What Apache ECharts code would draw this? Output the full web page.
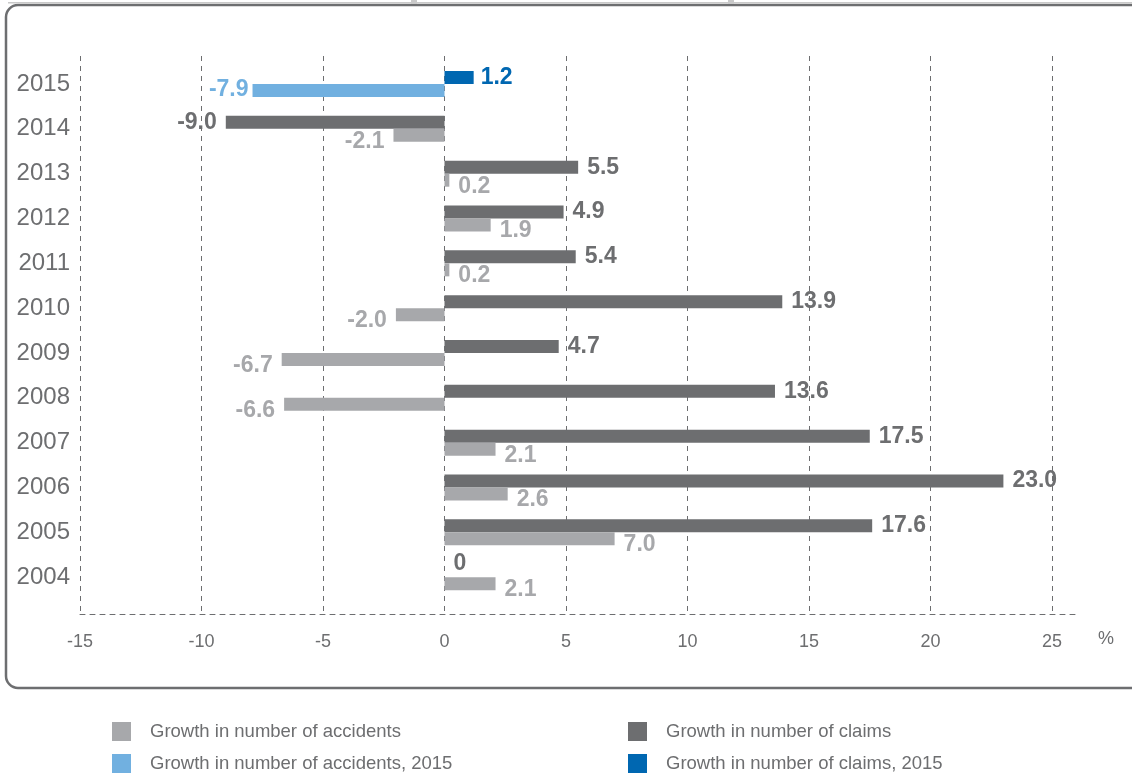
<!DOCTYPE html>
<html>
<head>
<meta charset="utf-8">
<script src="https://cdn.jsdelivr.net/npm/echarts@6/dist/echarts.min.js"></script>
<style>
  html, body { margin: 0; padding: 0; background: #ffffff; }
  #chart { width: 1132px; height: 776px; }
</style>
</head>
<body>
<div id="chart"></div>
<script>
// Years, bottom to top
const years = ['2004', '2005', '2006', '2007', '2008', '2009', '2010', '2011', '2012', '2013', '2014', '2015'];
// Growth in number of accidents, % (2015 shown separately)
const accidents = [2.1, 7.0, 2.6, 2.1, -6.6, -6.7, -2.0, 0.2, 1.9, 0.2, -2.1, null];
const accidents2015 = [null, null, null, null, null, null, null, null, null, null, null, -7.9];
// Growth in number of claims, % (2015 shown separately)
const claims = [0, 17.6, 23.0, 17.5, 13.6, 4.7, 13.9, 5.4, 4.9, 5.5, -9.0, null];
const claims2015 = [null, null, null, null, null, null, null, null, null, null, null, 1.2];
// Value axis ticks
const xTicks = { min: -15, max: 25, step: 5 };

const NAMES = {
  acc: 'Growth in number of accidents',
  acc15: 'Growth in number of accidents, 2015',
  clm: 'Growth in number of claims',
  clm15: 'Growth in number of claims, 2015'
};
const COLORS = {
  acc: '#a7a8ab',
  acc15: '#71b0e0',
  clm: '#6d6e70',
  clm15: '#0067b1'
};
const TEXT = '#6d6e70';
const FONT = '"Liberation Sans", Arial, sans-serif';

// Turn a value array into bar items; negative bars carry their label on the left,
// a zero bar has its label lifted a little above the slot
function toItems(values) {
  return values.map(v => {
    if (v === null) return null;
    const item = { value: v, label: { position: v < 0 ? 'left' : 'right' } };
    if (v === 0) item.label.offset = [0, -7];
    return item;
  });
}

function fmt(p) {
  return p.value === 0 ? '0' : p.value.toFixed(1);
}

function barSeries(key, values, stack, dy, dist) {
  return {
    name: NAMES[key],
    type: 'bar',
    stack: stack,
    xAxisIndex: 0,
    yAxisIndex: 0,
    barWidth: 13,
    barGap: '0%',
    data: toItems(values),
    itemStyle: { color: COLORS[key] },
    label: {
      show: true,
      distance: dist,
      offset: [0, dy],
      formatter: fmt,
      color: COLORS[key],
      fontFamily: FONT,
      fontWeight: 'bold',
      fontSize: 23
    },
    emphasis: { disabled: true },
    animation: false
  };
}

const chart = echarts.init(document.getElementById('chart'), null, { renderer: 'canvas' });

chart.setOption({
  backgroundColor: '#ffffff',
  animation: false,
  textStyle: { fontFamily: FONT },
  grid: [
    // bars
    { left: 80, right: 80, top: 61.6, bottom: 176.4 },
    // vertical dashed gridlines and tick labels
    { left: 80, right: 80, top: 56, bottom: 162 },
    // dashed baseline running past the last tick
    { left: 80, right: 54, top: 612, bottom: 162 }
  ],
  xAxis: [
    {
      gridIndex: 0, type: 'value', min: xTicks.min, max: xTicks.max, interval: xTicks.step,
      axisLine: { show: false }, axisTick: { show: false }, axisLabel: { show: false },
      splitLine: { show: false }
    },
    {
      gridIndex: 1, type: 'value', min: xTicks.min, max: xTicks.max, interval: xTicks.step,
      axisLine: { show: false }, axisTick: { show: false },
      axisLabel: { show: true, margin: 19, color: TEXT, fontSize: 18, fontFamily: FONT },
      splitLine: { show: true, lineStyle: { color: '#6d6e70', width: 1, type: [5, 5] } }
    },
    {
      gridIndex: 2, type: 'value', min: 0, max: 1, position: 'bottom',
      axisLine: { show: true, lineStyle: { color: '#6d6e70', width: 1, type: [5, 5] } },
      axisTick: { show: false }, axisLabel: { show: false }, splitLine: { show: false },
      name: '%', nameLocation: 'end', nameGap: 20,
      nameTextStyle: { color: TEXT, fontSize: 18, fontFamily: FONT, verticalAlign: 'top', padding: [16, 0, 0, 0] }
    }
  ],
  yAxis: [
    {
      gridIndex: 0, type: 'category', data: years,
      axisLine: { show: false }, axisTick: { show: false },
      axisLabel: { margin: 10, color: TEXT, fontSize: 24, fontFamily: FONT },
      splitLine: { show: false }
    },
    { gridIndex: 1, type: 'value', show: false, splitLine: { show: false } },
    { gridIndex: 2, type: 'value', show: false, splitLine: { show: false } }
  ],
  legend: [
    {
      left: 112, top: 722, orient: 'vertical', padding: 0, itemGap: 13,
      itemWidth: 19, itemHeight: 19, icon: 'rect', selectedMode: false,
      textStyle: { color: TEXT, fontSize: 18.5, fontFamily: FONT, padding: [0, 0, 0, 14] },
      data: [NAMES.acc, NAMES.acc15]
    },
    {
      left: 628, top: 722, orient: 'vertical', padding: 0, itemGap: 13,
      itemWidth: 19, itemHeight: 19, icon: 'rect', selectedMode: false,
      textStyle: { color: TEXT, fontSize: 18.5, fontFamily: FONT, padding: [0, 0, 0, 14] },
      data: [NAMES.clm, NAMES.clm15]
    }
  ],
  graphic: [
    // frame
    {
      type: 'rect', z: 0, silent: true,
      shape: { x: 6, y: 5, width: 1140, height: 683, r: 12 },
      style: { fill: null, stroke: '#6d6e70', lineWidth: 2.5 }
    },
    { type: 'rect', silent: true, shape: { x: 8, y: 2, width: 1130, height: 1.5 }, style: { fill: '#c9c9c9' } },
    { type: 'rect', silent: true, shape: { x: 411, y: 0, width: 6, height: 4 }, style: { fill: '#c9c9c9' } },
    { type: 'rect', silent: true, shape: { x: 728, y: 0, width: 6, height: 4 }, style: { fill: '#c9c9c9' } }
  ],
  series: [
    barSeries('clm', claims, 'claims', 0, 9),
    barSeries('acc', accidents, 'accidents', 6, 9),
    barSeries('clm15', claims2015, 'claims', 0, 7),
    barSeries('acc15', accidents2015, 'accidents', -1, 4)
  ]
});
</script>
</body>
</html>
